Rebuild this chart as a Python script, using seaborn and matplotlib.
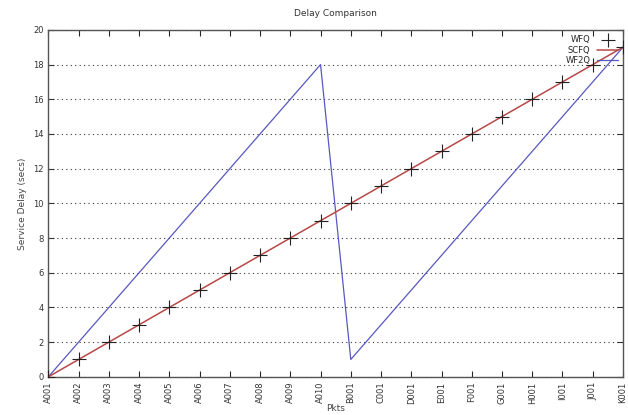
import matplotlib
matplotlib.use("Agg")
import matplotlib.pyplot as plt
import seaborn as sns
import pandas as pd

# packet labels along the x axis
pkts = ["A001", "A002", "A003", "A004", "A005", "A006", "A007", "A008", "A009", "A010",
        "B001", "C001", "D001", "E001", "F001", "G001", "H001", "I001", "J001", "K001"]

# service delay (secs) per scheduler
wfq = [0, 1, 2, 3, 4, 5, 6, 7, 8, 9, 10, 11, 12, 13, 14, 15, 16, 17, 18, 19]
scfq = [0, 1, 2, 3, 4, 5, 6, 7, 8, 9, 10, 11, 12, 13, 14, 15, 16, 17, 18, 19]
wf2q_pkts = ["A001", "A010", "B001", "K001"]
wf2q = [0, 18, 1, 19]

sns.set_style("ticks")
plt.rcParams['font.family'] = ['DejaVu Sans']

pos = {p: i for i, p in enumerate(pkts)}
df_wfq = pd.DataFrame({"x": [pos[p] for p in pkts], "y": wfq})
df_scfq = pd.DataFrame({"x": [pos[p] for p in pkts], "y": scfq})
df_wf2q = pd.DataFrame({"x": [pos[p] for p in wf2q_pkts], "y": wf2q})

fig = plt.figure(figsize=(6.28, 4.15), dpi=100)
ax = fig.add_axes([0.077, 0.092, 0.915, 0.836])

sns.lineplot(data=df_scfq, x="x", y="y", ax=ax, color="#b84848", lw=1.1, label="SCFQ", zorder=3)
sns.lineplot(data=df_wf2q, x="x", y="y", ax=ax, color="#5858c0", lw=0.9, label="WF2Q", zorder=2)
sns.scatterplot(data=df_wfq, x="x", y="y", ax=ax, marker="+", s=100, color="#222222",
                linewidth=0.8, label="WFQ", zorder=4)

ax.set_xlim(0, len(pkts) - 1)
ax.set_ylim(0, 20)
ax.set_xticks(range(len(pkts)))
ax.set_xticklabels(pkts, rotation=90, fontsize=6, color="#333333")
ax.set_yticks(range(0, 21, 2))
ax.tick_params(axis="y", labelsize=6, colors="#333333")
ax.tick_params(direction="in", length=4, width=0.8, top=True, right=True)
ax.yaxis.grid(True, linestyle=(0, (1, 3)), color="#333333", lw=0.8)
for s in ax.spines.values():
    s.set_linewidth(1.0)
    s.set_color("#555555")

ax.set_xlabel("Pkts", fontsize=6.5, color="#444444", labelpad=0)
ax.set_ylabel("Service Delay (secs)", fontsize=6.5, color="#444444")
ax.set_title("Delay Comparison", fontsize=6.5, color="#333333", pad=10)

handles, labels = ax.get_legend_handles_labels()
order = [labels.index(n) for n in ["WFQ", "SCFQ", "WF2Q"]]
ax.legend([handles[i] for i in order], [labels[i] for i in order], loc="upper right",
          frameon=False, markerfirst=False, fontsize=6, handlelength=2.5,
          borderaxespad=0.2, labelspacing=0.2)

fig.savefig("out.png", dpi=100)
